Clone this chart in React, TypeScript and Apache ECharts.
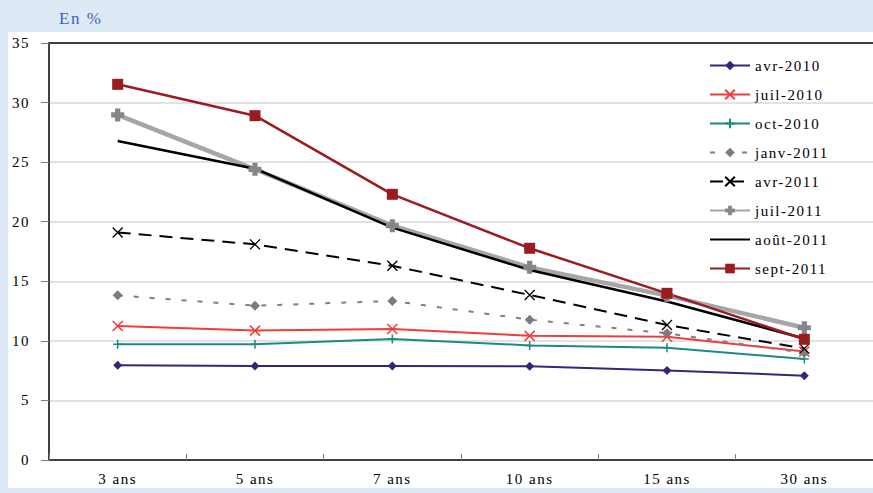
import React, { useEffect, useRef } from 'react';
import * as echarts from 'echarts';

const categories = ['3 ans', '5 ans', '7 ans', '10 ans', '15 ans', '30 ans'];
const seriesNames = ['avr-2010', 'juil-2010', 'oct-2010', 'janv-2011', 'avr-2011', 'juil-2011', 'août-2011', 'sept-2011'];
const avr2010 = [7.95, 7.9, 7.9, 7.86, 7.52, 7.08];
const juil2010 = [11.25, 10.86, 11.0, 10.42, 10.35, 9.1];
const oct2010 = [9.71, 9.71, 10.16, 9.62, 9.43, 8.48];
const janv2011 = [13.82, 12.95, 13.35, 11.78, 10.63, 9.0];
const avr2011 = [19.1, 18.1, 16.3, 13.85, 11.33, 9.35];
const juil2011 = [28.96, 24.4, 19.67, 16.17, 13.8, 11.1];
const aout2011 = [26.78, 24.45, 19.5, 15.95, 13.3, 10.2];
const sept2011 = [31.53, 28.9, 22.3, 17.77, 13.99, 10.13];
const yTicks = { min: 0, max: 35, interval: 5 };

const FONT = 'Liberation Serif';
const X_SYM = 'path://M0,0L10,10M0,10L10,0';
const PLUS_SYM = 'path://M5,0L5,10M0,5L10,5';
const CROSS_SYM = 'path://M3,0L7,0L7,3L10,3L10,7L7,7L7,10L3,10L3,7L0,7L0,3L3,3Z';

function mk(name: string, data: number[], color: string, width: number, extra: any) {
  return {
    name,
    type: 'line',
    data,
    xAxisIndex: 0,
    yAxisIndex: 0,
    symbol: 'none',
    lineStyle: { color, width, type: 'solid' },
    itemStyle: { color },
    emphasis: { disabled: true },
    ...extra,
  };
}

export default function App() {
  const ref = useRef<HTMLDivElement>(null);
  useEffect(() => {
    const chart = echarts.init(ref.current!, null, { renderer: 'svg' });
    const series = [
      mk(seriesNames[0], avr2010, '#2f2a78', 2, { symbol: 'diamond', symbolSize: 9 }),
      mk(seriesNames[1], juil2010, '#f23c3c', 2, {
        symbol: X_SYM, symbolSize: 10,
        itemStyle: { color: '#f23c3c', borderColor: '#f23c3c', borderWidth: 1.5 },
      }),
      mk(seriesNames[2], oct2010, '#1b8a86', 2, {
        symbol: PLUS_SYM, symbolSize: 9,
        itemStyle: { color: '#1b8a86', borderColor: '#1b8a86', borderWidth: 1.5 },
      }),
      mk(seriesNames[3], janv2011, '#808080', 2, {
        symbol: 'diamond', symbolSize: 10,
        lineStyle: { color: '#808080', width: 2, type: [5, 11] },
        itemStyle: { color: '#7a7a7f' },
      }),
      mk(seriesNames[4], avr2011, '#000000', 2, {
        symbol: X_SYM, symbolSize: 10,
        lineStyle: { color: '#000000', width: 2, type: [13, 8] },
        itemStyle: { color: '#000000', borderColor: '#000000', borderWidth: 1.3 },
      }),
      mk(seriesNames[5], juil2011, '#a6a6a6', 4.5, {
        symbol: CROSS_SYM, symbolSize: 13,
        itemStyle: { color: '#85858a' },
      }),
      mk(seriesNames[6], aout2011, '#000000', 2.5, {}),
      mk(seriesNames[7], sept2011, '#9b1c20', 2.5, { symbol: 'rect', symbolSize: 11 }),
    ];
    const legendData = seriesNames.map((n) =>
      n === 'août-2011' ? { name: n, itemStyle: { opacity: 0 } } : { name: n }
    );
    chart.setOption({
      animation: false,
      backgroundColor: 'transparent',
      title: {
        text: 'En %',
        left: 54,
        top: 5,
        textStyle: { color: '#3f63b3', fontFamily: FONT, fontSize: 17, fontWeight: 'normal' },
      },
      legend: {
        orient: 'vertical',
        left: 704,
        top: 53,
        itemWidth: 40,
        itemHeight: 12,
        itemGap: 14,
        data: legendData,
        textStyle: { color: '#000', fontFamily: FONT, fontSize: 15 },
        selectedMode: false,
      },
      grid: { left: 49, right: 0, top: 43, bottom: 33, containLabel: false, outerBoundsMode: 'none' },
      xAxis: [
        {
          type: 'category',
          data: categories,
          boundaryGap: true,
          axisLine: { show: true, lineStyle: { color: '#404040', width: 2 } },
          axisTick: { show: true, inside: true, length: 6, lineStyle: { color: '#808080', width: 1 } },
          axisLabel: { color: '#000', fontFamily: FONT, fontSize: 15, margin: 11 },
          splitLine: { show: false },
        },
        {
          type: 'category',
          data: categories,
          position: 'top',
          axisLine: { show: true, lineStyle: { color: '#404040', width: 2 } },
          axisTick: { show: false },
          axisLabel: { show: false },
          splitLine: { show: false },
        },
      ],
      yAxis: {
        type: 'value',
        min: yTicks.min,
        max: yTicks.max,
        interval: yTicks.interval,
        axisLine: { show: true, lineStyle: { color: '#404040', width: 2 } },
        axisTick: { show: true, inside: false, length: 8, lineStyle: { color: '#808080', width: 1 } },
        axisLabel: { color: '#000', fontFamily: FONT, fontSize: 15, margin: 19 },
        splitLine: { show: true, lineStyle: { color: '#d9d9d9', width: 1.5 } },
      },
      series,
    });
    return () => chart.dispose();
  }, []);
  return (
    <div style={{ position: 'fixed', left: 0, top: 0, width: 873, height: 493, background: '#dee9f6', overflow: 'hidden' }}>
      <style>{`.chartbox svg text { letter-spacing: 1.5px; }`}</style>
      <div style={{ position: 'absolute', left: 8, top: 32, width: 865, height: 456, background: '#ffffff' }} />
      <div ref={ref} className="chartbox" style={{ position: 'absolute', left: 0, top: 0, width: 873, height: 493 }} />
    </div>
  );
}
